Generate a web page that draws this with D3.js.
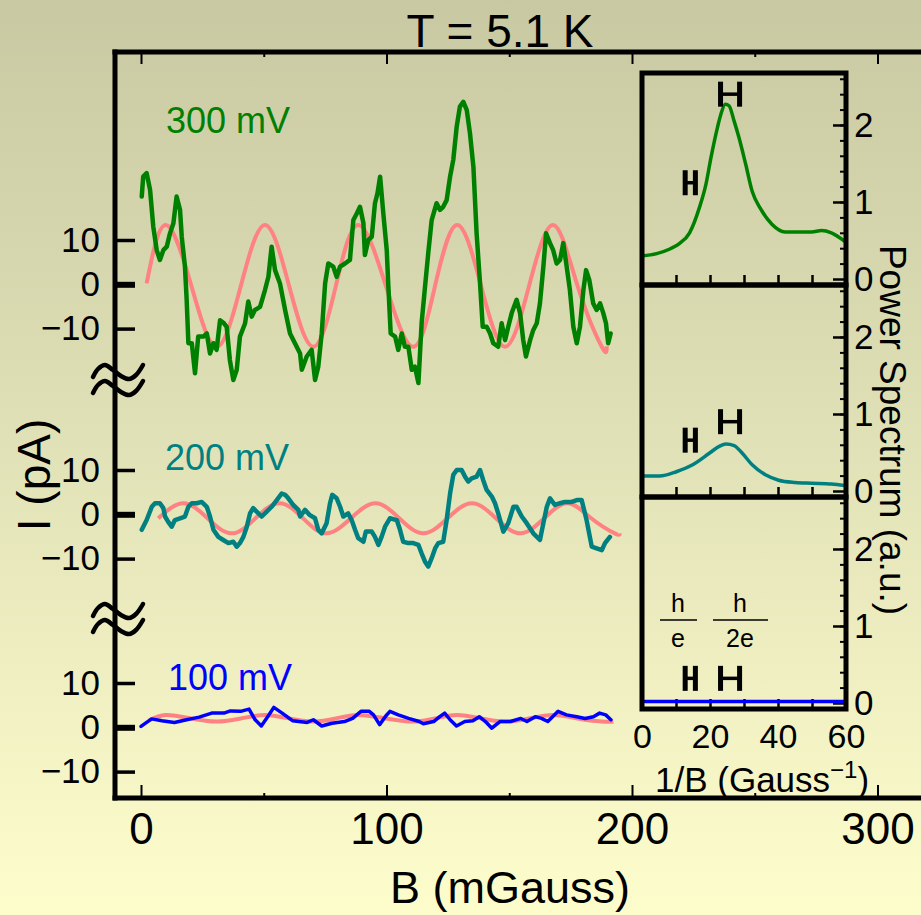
<!DOCTYPE html>
<html>
<head>
<meta charset="utf-8">
<script src="https://cdn.jsdelivr.net/npm/d3@7"></script>
<style>
  body { margin: 0; }
</style>
</head>
<body>
<svg id="chart" width="921" height="915"></svg>
<script>
//--- data ---
// main traces: [B (mGauss), I (pA)]
const trace300 = [[0.3,19.8],[0.9,24.3],[2.3,25.1],[3.7,21.3],[5.0,13.0],[6.4,7.7],[7.7,5.5],[9.1,7.7],[10.5,8.5],[11.8,11.5],[13.2,13.8],[14.5,19.8],[15.9,16.8],[16.6,10.7],[17.9,4.0],[18.6,-3.5],[19.3,-13.3],[20.7,-13.3],[22.0,-20.1],[23.3,-11.8],[25.4,-11.8],[26.8,-11.1],[28.1,-15.6],[29.5,-13.3],[30.8,-14.8],[32.2,-8.1],[33.8,-8.8],[34.9,-9.6],[36.2,-17.1],[37.6,-21.6],[39.0,-19.3],[40.3,-11.8],[42.4,-8.8],[43.7,-3.9],[45.1,-7.3],[46.4,-5.8],[48.5,-5.1],[50.5,-1.3],[51.9,1.7],[53.2,8.5],[54.6,3.2],[56.6,0.2],[58.7,-5.8],[60.7,-11.1],[62.7,-13.3],[64.8,-15.6],[65.5,-19.3],[67.5,-16.3],[69.5,-14.8],[70.9,-21.6],[72.2,-18.6],[73.6,-11.1],[75.0,0.2],[76.3,4.7],[78.3,4.0],[79.7,1.7],[81.1,4.0],[83.1,4.7],[85.1,5.5],[86.5,14.5],[87.9,16.0],[89.2,17.5],[90.6,13.8],[91.2,6.6],[92.6,10.0],[94.0,10.7],[95.3,18.3],[96.3,20.5],[97.4,24.3],[98.7,16.0],[100.1,7.7],[100.7,0.2],[101.7,-11.1],[103.5,-11.8],[104.8,-14.8],[106.2,-11.1],[107.5,-14.1],[108.9,-14.1],[110.3,-19.3],[111.6,-18.6],[113.0,-22.3],[114.3,-8.8],[115.7,-0.5],[117.0,7.0],[118.4,14.5],[120.4,18.3],[121.8,16.8],[123.1,17.5],[124.5,19.0],[125.9,24.3],[127.2,28.1],[128.6,35.6],[129.9,40.1],[131.3,41.2],[132.7,39.3],[134.0,34.1],[135.4,26.5],[136.7,11.5],[138.1,0.2],[139.2,-9.6],[140.8,-9.6],[142.2,-11.1],[143.5,-13.3],[145.5,-14.1],[146.9,-8.8],[148.3,-12.6],[149.6,-9.6],[151.0,-6.5],[153.0,-3.5],[154.4,-6.5],[155.7,-12.6],[156.8,-16.3],[158.5,-12.6],[159.8,-10.3],[161.2,-8.8],[162.5,-4.3],[163.9,4.0],[165.0,11.5],[166.6,9.3],[167.9,7.7],[169.3,4.7],[170.7,5.5],[172.0,9.3],[173.4,4.0],[174.7,-1.3],[176.1,-9.6],[177.5,-13.3],[178.8,-9.6],[180.2,-1.3],[181.3,3.2],[182.6,1.0],[184.2,-4.3],[185.6,-5.8],[187.0,-4.3],[188.3,-6.5],[189.4,-8.8],[190.3,-13.3],[191.3,-11.1]];

const fit300 = [[2.3,0.2],[10.1,13.4],[20.5,-0.3],[30.8,-14.1],[40.7,-0.3],[50.5,13.4],[60.3,-0.3],[70.2,-14.1],[79.4,-0.3],[88.5,13.4],[99.7,-0.3],[110.9,-14.1],[119.8,-0.3],[128.8,13.4],[138.5,-0.3],[148.3,-14.1],[158.1,-0.3],[167.9,13.4],[177.8,-0.3],[187.7,-14.1],[189.7,-14.0]];

const trace200 = [[0.3,-3.5],[2.3,-1.3],[4.4,1.7],[5.7,2.5],[7.7,2.5],[9.1,1.4],[9.8,-0.5],[11.1,-1.7],[12.5,-2.8],[13.8,-1.3],[15.9,-0.9],[17.9,-0.5],[19.3,1.7],[20.7,2.5],[22.7,2.5],[24.7,2.8],[26.8,1.7],[28.1,-0.5],[29.5,-3.5],[31.5,-5.1],[33.5,-5.8],[35.6,-6.5],[37.6,-6.2],[39.0,-7.3],[40.3,-6.5],[41.7,-5.1],[43.1,-2.8],[44.4,0.2],[45.7,1.4],[47.1,0.6],[49.2,-0.5],[51.2,0.6],[53.2,1.7],[55.3,3.2],[57.3,4.7],[58.7,4.4],[60.0,3.6],[62.0,2.1],[64.1,1.0],[64.8,-0.5],[66.8,1.0],[68.8,-0.2],[70.9,-0.9],[72.2,-3.5],[73.6,-4.3],[75.6,-2.0],[77.0,2.5],[77.9,4.4],[79.7,3.6],[81.1,1.7],[82.4,-0.5],[84.4,0.2],[85.8,-1.3],[87.2,-3.5],[88.5,-5.4],[90.6,-6.2],[91.6,-3.9],[94.0,-3.9],[95.3,-5.1],[96.7,-6.9],[98.0,-5.1],[99.4,-2.8],[101.4,-0.9],[104.2,-1.3],[105.5,-3.5],[106.8,-6.2],[108.9,-6.5],[110.9,-6.5],[113.0,-6.9],[114.3,-8.8],[115.7,-10.7],[117.0,-11.8],[118.4,-9.9],[119.8,-7.7],[121.1,-6.5],[123.1,-6.2],[124.5,-1.3],[125.9,4.7],[127.2,8.9],[128.6,10.0],[130.6,10.0],[132.0,8.5],[133.3,7.4],[134.7,8.1],[136.7,8.5],[138.1,10.0],[139.4,7.7],[140.8,5.5],[142.9,4.0],[144.2,2.5],[145.5,0.2],[147.6,-3.9],[149.6,-2.0],[151.7,1.7],[153.0,1.7],[155.1,-0.5],[157.1,-2.0],[159.8,-4.3],[162.5,-5.8],[163.9,-2.0],[165.3,1.7],[166.6,3.6],[168.6,2.1],[170.7,2.5],[172.7,2.8],[175.4,2.8],[177.5,3.2],[179.5,3.2],[181.5,-1.3],[183.6,-7.3],[185.6,-7.7],[187.7,-8.1],[189.0,-6.5],[191.0,-5.1]];

const fit200 = [[7.0,-0.9],[17.3,2.5],[27.1,-0.9],[36.9,-4.3],[46.6,-0.9],[56.4,2.5],[66.0,-0.9],[75.5,-4.3],[85.5,-0.9],[95.5,2.5],[105.2,-0.9],[115.0,-4.3],[124.9,-0.9],[134.8,2.5],[144.6,-0.9],[154.5,-4.3],[164.2,-0.9],[173.8,2.5],[183.4,-0.9],[193.0,-4.3],[195.0,-4.3]];

const trace100 = [[0.0,0.2],[4.3,1.9],[8.5,1.5],[13.6,1.1],[18.6,1.7],[23.7,2.3],[28.8,3.2],[33.8,3.2],[36.4,3.7],[40.6,3.6],[44.0,4.1],[46.5,1.7],[49.0,0.3],[51.6,2.4],[54.1,4.5],[57.5,3.2],[61.7,1.5],[67.7,1.1],[70.2,1.7],[73.6,0.3],[77.8,0.9],[82.9,1.3],[86.2,2.0],[89.6,3.6],[93.0,3.6],[94.7,2.8],[97.2,0.6],[99.8,2.6],[101.4,3.6],[104.8,2.8],[109.0,2.0],[113.3,1.3],[115.0,0.8],[119.2,1.3],[121.7,2.4],[123.7,3.2],[125.9,1.7],[128.5,0.3],[131.9,1.3],[135.2,1.5],[137.8,2.4],[140.3,1.3],[142.9,-0.2],[146.2,1.3],[150.5,1.3],[154.7,2.0],[157.2,1.3],[160.6,2.4],[163.1,2.0],[165.7,1.3],[169.9,3.6],[173.3,2.8],[177.5,2.4],[180.9,2.0],[184.3,2.4],[186.8,3.2],[189.3,2.8],[191.4,1.7]];

const fit100 = [[3.4,1.6],[10.1,2.8],[20.5,2.0],[30.8,1.3],[40.7,2.0],[50.5,2.8],[60.3,2.0],[70.2,1.3],[79.4,2.0],[88.5,2.8],[99.7,2.0],[110.9,1.3],[119.8,2.0],[128.8,2.8],[138.5,2.0],[148.3,1.3],[158.1,2.0],[167.9,2.8],[177.8,2.0],[187.7,1.3],[192.4,1.3]];

// inset power spectra: [1/B (Gauss^-1), power (a.u.)]
const spec300 = [[0,0.30],[4.3,0.33],[8.2,0.39],[11,0.46],[14,0.60],[16.9,0.93],[18.8,1.23],[20.3,1.58],[22.2,1.97],[23.2,2.14],[24.5,2.27],[25.6,2.25],[27.1,2.05],[28.5,1.84],[30.5,1.49],[32.4,1.14],[34.9,0.91],[38.2,0.71],[42.1,0.61],[46,0.61],[49.9,0.61],[52.8,0.63],[55.7,0.60],[59.6,0.49]];
const spec200 = [[0,0.195],[5.2,0.195],[10.1,0.25],[14.9,0.34],[19.8,0.49],[22.7,0.58],[24.7,0.61],[27.1,0.59],[29.5,0.49],[32.4,0.34],[36.3,0.21],[40.2,0.14],[45,0.11],[49.9,0.10],[55.7,0.09],[59.6,0.07]];
const spec100 = [[0,0.02],[10,0.02],[20,0.02],[30,0.02],[40,0.02],[50,0.02],[60,0.02]];

// h/e and h/2e period markers: [centre, half width, level] per panel
const marks300 = [[14.2,1.5,1.25],[25.9,2.8,2.40]];
const marks200 = [[14.2,1.5,0.66],[25.9,2.8,0.90]];
const marks100 = [[14.2,1.5,0.32],[25.9,2.8,0.32]];

const seriesLabels = ["300 mV", "200 mV", "100 mV"];
const xTicks = [0, 100, 200, 300],
      xMinorTicks = [50, 150, 250],
      yTicks = [-10, 0, 10],
      insetXTicks = [0, 20, 40, 60],
      insetXMinor = [10, 20, 30, 40, 50],
      insetYTicks = [0, 1, 2];

//--- drawing ---
let svg = d3.select("#chart"),
    W = 921, H = 915,
    font = '"Liberation Sans", Arial, Helvetica, sans-serif';

let colorPink = "#ff8282";
let colors = ["#008000", "#008080", "#0000ff"];

// background gradient
let grad = svg.append("defs").append("linearGradient")
    .attr("id", "bg").attr("x1", 0).attr("y1", 0).attr("x2", 0).attr("y2", 1);
grad.append("stop").attr("offset", "0%").attr("stop-color", "#c8c8a2");
grad.append("stop").attr("offset", "50%").attr("stop-color", "#e2e2b8");
grad.append("stop").attr("offset", "100%").attr("stop-color", "#fdfdcc");
svg.append("rect").attr("width", W).attr("height", H).attr("fill", "url(#bg)");

let plotLeft = 115, plotTop = 52, plotBottom = 798;

//define scales
let x = d3.scaleLinear().domain([0, 300]).range([141, 877.5]);
function panelY(zero) {
  return d3.scaleLinear().domain([-10, 10]).range([zero + 44.3, zero - 44.3]);
}
let panels = [
  {trace: trace300, fit: fit300, y: panelY(284.3), lab: [166, 133]},
  {trace: trace200, fit: fit200, y: panelY(514.3), lab: [165, 470]},
  {trace: trace100, fit: fit100, y: panelY(727.3), lab: [168, 690]}
];

// main frame
svg.append("line").attr("x1", plotLeft).attr("x2", plotLeft)
  .attr("y1", plotTop - 2.5).attr("y2", plotBottom + 2.5)
  .attr("stroke", "black").attr("stroke-width", 5);
[plotTop, plotBottom].forEach(function(yy) {
  svg.append("line").attr("x1", plotLeft - 2.5).attr("x2", W)
    .attr("y1", yy).attr("y2", yy)
    .attr("stroke", "black").attr("stroke-width", 5);
});

// x axis (ticks inside)
let gx = svg.append("g")
  .attr("transform", "translate(0," + plotBottom + ")")
  .call(d3.axisBottom(x).tickValues(xTicks).tickSizeInner(-13).tickSizeOuter(0).tickPadding(15));
gx.select(".domain").remove();
gx.attr("font-family", font).attr("font-size", 44);
gx.selectAll("line").attr("stroke-width", 2);

let gxm = svg.append("g")
  .attr("transform", "translate(0," + plotBottom + ")")
  .call(d3.axisBottom(x).tickValues(xMinorTicks).tickSize(-5).tickFormat(""));
gxm.select(".domain").remove();
gxm.selectAll("line").attr("stroke-width", 2);

// top ticks
let gt = svg.append("g")
  .attr("transform", "translate(0," + plotTop + ")")
  .call(d3.axisTop(x).tickValues(xTicks).tickSizeInner(-12).tickSizeOuter(0).tickFormat(""));
gt.select(".domain").remove();
gt.selectAll("line").attr("stroke-width", 2);
let gtm = svg.append("g")
  .attr("transform", "translate(0," + plotTop + ")")
  .call(d3.axisTop(x).tickValues(xMinorTicks).tickSize(-5).tickFormat(""));
gtm.select(".domain").remove();
gtm.selectAll("line").attr("stroke-width", 2);

// traces and y axes for each bias
panels.forEach(function(p, i) {
  let line = d3.line().x(function(d) { return x(d[0]); }).y(function(d) { return p.y(d[1]); });

  let gy = svg.append("g")
    .attr("transform", "translate(" + plotLeft + ",0)")
    .call(d3.axisLeft(p.y).tickValues(yTicks).tickSizeInner(-20).tickSizeOuter(0).tickPadding(15));
  gy.select(".domain").remove();
  gy.attr("font-family", font).attr("font-size", 35);
  gy.selectAll("line").attr("stroke-width", function(d) { return d === 0 ? 6 : 3.5; });

  svg.append("path")
    .datum(p.fit)
    .attr("d", line.curve(d3.curveNatural))
    .attr("fill", "none")
    .attr("stroke", colorPink)
    .attr("stroke-width", 4);

  svg.append("path")
    .datum(p.trace)
    .attr("d", line.curve(d3.curveLinear))
    .attr("fill", "none")
    .attr("stroke", colors[i])
    .attr("stroke-width", i === 2 ? 3.5 : 4.5)
    .attr("stroke-linejoin", "round")
    .attr("stroke-linecap", "round");

  svg.append("text")
    .attr("x", p.lab[0]).attr("y", p.lab[1])
    .attr("font-family", font).attr("font-size", 36)
    .attr("fill", colors[i])
    .text(seriesLabels[i]);
});

// axis break marks
let tilde = d3.line().curve(d3.curveCatmullRom);
[372, 388, 611, 627].forEach(function(cy) {
  let pts = [[-25, 5], [-20, -3], [-13, -7], [-5, -2], [3, 4], [11, 7], [18, 3], [25, -7]]
    .map(function(d) { return [118 + d[0], cy + d[1]]; });
  svg.append("path").attr("d", tilde(pts))
    .attr("fill", "none").attr("stroke", "black")
    .attr("stroke-width", 4.5).attr("stroke-linecap", "round");
});

// titles
svg.append("text").attr("x", 500).attr("y", 47)
  .attr("text-anchor", "middle").attr("font-family", font).attr("font-size", 46)
  .text("T = 5.1 K");
svg.append("text").attr("x", 510).attr("y", 903)
  .attr("text-anchor", "middle").attr("font-family", font).attr("font-size", 45)
  .text("B (mGauss)");
svg.append("text").attr("transform", "translate(50,475) rotate(-90)")
  .attr("text-anchor", "middle").attr("font-family", font).attr("font-size", 46)
  .text("I (pA)");

//--- inset: power spectra ---
let insetX = d3.scaleLinear().domain([0, 60]).range([642, 846]);
let insetTop = 73, insetH = 212;
let specs = [spec300, spec200, spec100],
    marks = [marks300, marks200, marks100];

specs.forEach(function(spec, i) {
  let top = insetTop + i * insetH, bottom = top + insetH;
  let yP = d3.scaleLinear().domain([-0.078, 2.675]).range([bottom, top]);

  // bottom ticks (inside)
  let gb = svg.append("g").attr("transform", "translate(0," + bottom + ")")
    .call(d3.axisBottom(insetX).tickValues(insetXMinor).tickSize(-10).tickFormat(""));
  gb.select(".domain").remove();
  gb.selectAll("line").attr("stroke-width", 2.5);

  // right axis
  let gr = svg.append("g").attr("transform", "translate(" + insetX.range()[1] + ",0)")
    .call(d3.axisRight(yP).tickValues(insetYTicks).tickFormat(d3.format("d"))
      .tickSizeInner(-13).tickSizeOuter(0).tickPadding(8));
  gr.select(".domain").remove();
  gr.attr("font-family", font).attr("font-size", 35);
  gr.selectAll("line").attr("stroke-width", 2.5);
  let grm = svg.append("g").attr("transform", "translate(" + insetX.range()[1] + ",0)")
    .call(d3.axisRight(yP).tickValues(d3.range(0.2, 2.61, 0.2)).tickSize(-6).tickFormat(""));
  grm.select(".domain").remove();
  grm.selectAll("line").attr("stroke-width", 2);

  // spectrum curve
  svg.append("path")
    .datum(spec)
    .attr("d", d3.line().curve(d3.curveMonotoneX)
      .x(function(d) { return insetX(d[0]); })
      .y(function(d) { return yP(d[1]); }))
    .attr("fill", "none")
    .attr("stroke", colors[i])
    .attr("stroke-width", 3.5);

  // H shaped period markers
  marks[i].forEach(function(m) {
    let xl = insetX(m[0] - m[1]), xr = insetX(m[0] + m[1]), yc = yP(m[2]);
    let g = svg.append("g").attr("stroke", "black");
    g.append("line").attr("x1", xl).attr("x2", xl).attr("y1", yc - 12.5).attr("y2", yc + 12.5).attr("stroke-width", 5);
    g.append("line").attr("x1", xr).attr("x2", xr).attr("y1", yc - 12.5).attr("y2", yc + 12.5).attr("stroke-width", 5);
    g.append("line").attr("x1", xl).attr("x2", xr).attr("y1", yc).attr("y2", yc).attr("stroke-width", 3.5);
  });

  // panel frame
  svg.append("rect")
    .attr("x", insetX.range()[0]).attr("y", top)
    .attr("width", insetX.range()[1] - insetX.range()[0]).attr("height", insetH)
    .attr("fill", "none").attr("stroke", "black").attr("stroke-width", 5);

  if (i === 2) {
    let gl = svg.append("g").attr("transform", "translate(0," + bottom + ")")
      .call(d3.axisBottom(insetX).tickValues(insetXTicks).tickSize(0).tickPadding(15));
    gl.select(".domain").remove();
    gl.attr("font-family", font).attr("font-size", 34);
  }
});

// h/e and h/2e fractions
[[678, "e", 660, 697], [740, "2e", 713, 768]].forEach(function(f) {
  svg.append("text").attr("x", f[0]).attr("y", 612).attr("text-anchor", "middle")
    .attr("font-family", font).attr("font-size", 25).text("h");
  svg.append("text").attr("x", f[0]).attr("y", 647).attr("text-anchor", "middle")
    .attr("font-family", font).attr("font-size", 25).text(f[1]);
  svg.append("line").attr("x1", f[2]).attr("x2", f[3]).attr("y1", 620).attr("y2", 620)
    .attr("stroke", "black").attr("stroke-width", 1.5);
});

// inset axis titles
let xl = svg.append("text").attr("x", 655).attr("y", 792)
  .attr("font-family", font).attr("font-size", 35);
xl.append("tspan").text("1/B (Gauss");
xl.append("tspan").attr("font-size", 24).attr("dy", -14).text("\u22121");
xl.append("tspan").attr("dy", 14).text(")");

svg.append("text").attr("transform", "translate(880,430) rotate(90)")
  .attr("text-anchor", "middle").attr("font-family", font).attr("font-size", 37)
  .text("Power Spectrum (a.u.)");
</script>
</body>
</html>
